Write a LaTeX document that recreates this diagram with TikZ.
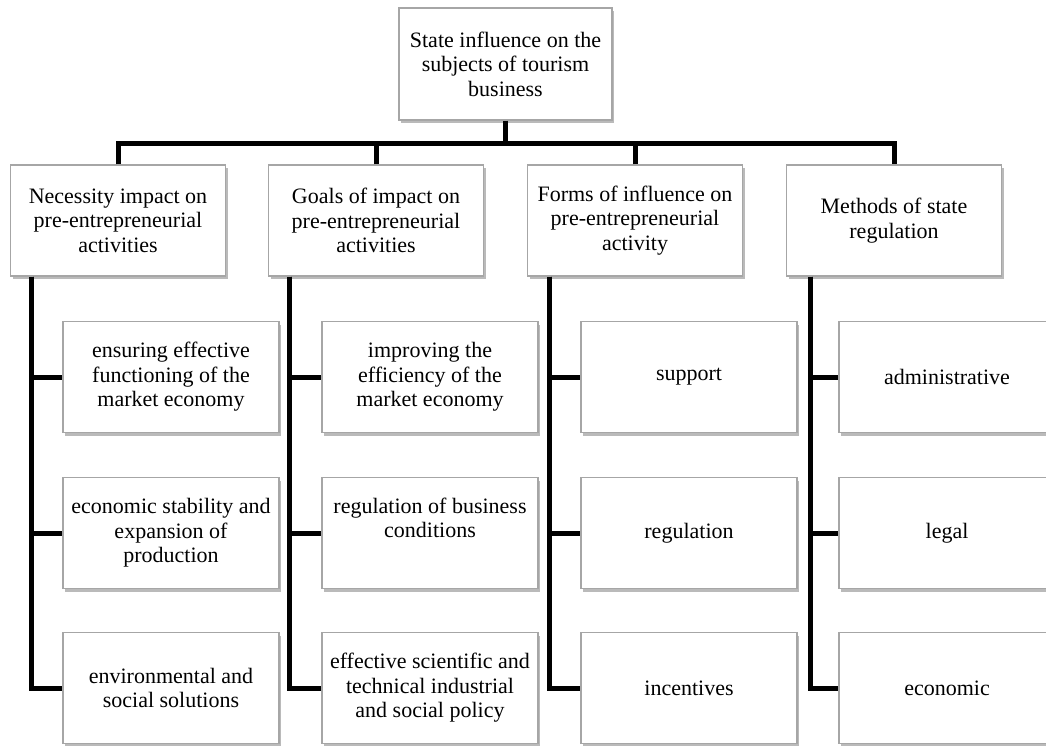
\documentclass[tikz,border=0pt]{standalone}
\usepackage{fontspec}
\setmainfont{Liberation Serif}
\usetikzlibrary{shadows}

\tikzset{
  box/.style={draw=black!35, line width=1.4pt, fill=white, align=center,
    inner sep=1pt, font=\fontsize{22}{24.5}\selectfont,
    drop shadow={shadow xshift=2pt, shadow yshift=-3pt, opacity=0.45, fill=black!60}},
  topbox/.style={box, minimum width=213pt, minimum height=112pt},
  headbox/.style={box, minimum width=215pt, minimum height=111pt},
  itembox/.style={box, minimum width=216pt, minimum height=111pt},
  link/.style={line width=5pt, line join=miter}
}

\begin{document}
\begin{tikzpicture}[x=1pt,y=-1pt]
	\useasboundingbox (0,0) rectangle (1046,745);
	% Etage 1
	\node[topbox] (top) at (505.5,64) {State influence on the\\subjects of tourism\\business};
	\coordinate (bar) at (505.5,143);
	% Etage 2
	\node[headbox] (h1) at (118,220.5) {Necessity impact on\\pre-entrepreneurial\\activities};
	\node[headbox] (h2) at (376,220.5) {Goals of impact on\\pre-entrepreneurial\\activities};
	\node[headbox] (h3) at (635,220.5) {Forms of influence on\\pre-entrepreneurial\\activity};
	\node[headbox] (h4) at (894,220.5) {Methods of state\\regulation};
	% Etage 3
	\node[itembox] (c11) at (171,377) {ensuring effective\\functioning of the\\market economy};
	\node[itembox] (c12) at (171,533) {economic stability and\\expansion of\\production};
	\node[itembox] (c13) at (171,688) {environmental and\\social solutions};
	\node[itembox] (c21) at (430,377) {improving the\\efficiency of the\\market economy};
	\node[itembox] (c22) at (430,533) {regulation of business\\conditions\\[6pt]};
	\node[itembox] (c23) at (430,688) {effective scientific and\\technical industrial\\and social policy};
	\node[itembox] (c31) at (689,377) {support};
	\node[itembox] (c32) at (689,533) {regulation};
	\node[itembox] (c33) at (689,688) {incentives};
	\node[itembox] (c41) at (947,377) {administrative};
	\node[itembox] (c42) at (947,533) {legal};
	\node[itembox] (c43) at (947,688) {economic};
	% liaisons
	\draw[link] (top.south) -- (bar);
	\draw[link] (h1.north) |- (bar) -| (h4.north);
	\draw[link] (h2.north) |- (bar);
	\draw[link] (h3.north) |- (bar);
	\draw[link] ([xshift=22]h1.south west) |- (c11.west);
	\draw[link] ([xshift=22]h1.south west) |- (c12.west);
	\draw[link] ([xshift=22]h1.south west) |- (c13.west);
	\draw[link] ([xshift=22]h2.south west) |- (c21.west);
	\draw[link] ([xshift=22]h2.south west) |- (c22.west);
	\draw[link] ([xshift=22]h2.south west) |- (c23.west);
	\draw[link] ([xshift=23]h3.south west) |- (c31.west);
	\draw[link] ([xshift=23]h3.south west) |- (c32.west);
	\draw[link] ([xshift=23]h3.south west) |- (c33.west);
	\draw[link] ([xshift=25]h4.south west) |- (c41.west);
	\draw[link] ([xshift=25]h4.south west) |- (c42.west);
	\draw[link] ([xshift=25]h4.south west) |- (c43.west);
\end{tikzpicture}
\end{document}
